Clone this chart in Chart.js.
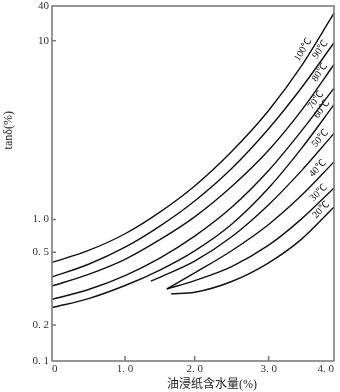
<!DOCTYPE html>
<html>
<head>
<meta charset="utf-8">
<script src="https://cdn.jsdelivr.net/npm/chart.js@4.4.1/dist/chart.umd.min.js"></script>
<style>
  html, body { margin: 0; padding: 0; background: #fff; }
</style>
</head>
<body>
<canvas id="tanDelta" width="340" height="392"></canvas>
<script>
// 油浸纸 tanδ 随含水量和温度的变化

const temps = ['100℃', '90℃', '80℃', '70℃', '60℃', '50℃', '40℃', '30℃', '20℃'];

// 含水量 (%)
const water = [0, 0.5, 1.0, 1.5, 2.0, 2.5, 3.0, 3.5, 4.0];
const water50 = [1.37, 1.5, 2.0, 2.5, 3.0, 3.5, 4.0];
const water40 = [1.6, 2.0, 2.5, 3.0, 3.5, 4.0];
const water30 = [1.6, 2.0, 2.5, 3.0, 3.5, 4.0];
const water20 = [1.66, 2.0, 2.5, 3.0, 3.5, 4.0];

// tanδ (%)
const tan100 = [0.44, 0.52, 0.74, 1.10, 1.54, 2.40, 4.07, 7.2, 30];
const tan90 = [0.366, 0.43, 0.557, 0.87, 1.27, 1.93, 3.22, 5.44, 9.74];
const tan80 = [0.327, 0.379, 0.458, 0.653, 1.035, 1.53, 2.44, 4.06, 7.36];
const tan70 = [0.276, 0.313, 0.373, 0.465, 0.703, 1.17, 1.88, 3.12, 5.43];
const tan60 = [0.249, 0.279, 0.329, 0.40, 0.516, 0.906, 1.50, 2.49, 4.39];
const tan50 = [0.348, 0.365, 0.447, 0.694, 1.21, 1.87, 3.03];
const tan40 = [0.315, 0.386, 0.517, 0.90, 1.36, 2.10];
const tan30 = [0.315, 0.35, 0.418, 0.581, 1.005, 1.50];
const tan20 = [0.296, 0.302, 0.346, 0.438, 0.657, 1.175];

// 温度标注沿曲线的位置 (含水量 %)
const labelAt = [3.62, 3.88, 3.87, 3.81, 3.9, 3.87, 3.83, 3.84, 3.88];

const xTicks = [0, 1, 2, 3, 4];
const xTickText = ['0', '1. 0', '2. 0', '3. 0', '4. 0'];
const yTicks = [0.1, 0.2, 0.5, 1, 10, 40];
const yTickText = ['0. 1', '0. 2', '0. 5', '1. 0', '10', '40'];

const xTitle = '油浸纸含水量(%)';
const yTitle = 'tanδ(%)';

// the printed axes are not evenly divided: each tick has its own place
// along the axis (0 = start, 1 = end), values in between are interpolated
const xRuler = [0, 0.2591, 0.5059, 0.7682, 1];
const yRuler = [0, 0.1014, 0.3062, 0.3986, 0.9023, 1];

function rulerFor(axis) {
  return axis === 'x'
    ? { v: xTicks, f: xRuler, log: false }
    : { v: yTicks, f: yRuler, log: true };
}

function toFrac(r, value) {
  const g = r.log ? Math.log10 : (v) => v;
  let i = 0;
  while (i < r.v.length - 2 && value > r.v[i + 1]) i++;
  const a = g(r.v[i]), b = g(r.v[i + 1]);
  return r.f[i] + (g(value) - a) / (b - a) * (r.f[i + 1] - r.f[i]);
}

function fromFrac(r, frac) {
  let i = 0;
  while (i < r.f.length - 2 && frac > r.f[i + 1]) i++;
  const t = (frac - r.f[i]) / (r.f[i + 1] - r.f[i]);
  if (r.log) {
    const a = Math.log10(r.v[i]), b = Math.log10(r.v[i + 1]);
    return Math.pow(10, a + t * (b - a));
  }
  return r.v[i] + t * (r.v[i + 1] - r.v[i]);
}

class RulerScale extends Chart.LinearScale {
  static id = 'ruler';
  static defaults = {};

  determineDataLimits() {
    const r = rulerFor(this.axis);
    this.min = r.v[0];
    this.max = r.v[r.v.length - 1];
  }
  buildTicks() {
    return rulerFor(this.axis).v.map(value => ({ value }));
  }
  getPixelForValue(value) {
    return this.getPixelForDecimal(toFrac(rulerFor(this.axis), value));
  }
  getValueForPixel(pixel) {
    return fromFrac(rulerFor(this.axis), this.getDecimalForPixel(pixel));
  }
}
Chart.register(RulerScale);

const AXIS_GRAY = '#7c7c7c';
const INK = '#111';
const SERIF = '"Liberation Serif", "Noto Sans CJK SC", serif';

Chart.defaults.font.family = SERIF;
Chart.defaults.color = '#333';

// frame round the plot and short inward ticks
const frame = {
  id: 'frame',
  afterDraw(chart) {
    const { ctx, chartArea: a, scales: { x, y } } = chart;
    ctx.save();
    ctx.strokeStyle = AXIS_GRAY;
    ctx.lineWidth = 1.6;
    ctx.strokeRect(a.left, a.top, a.right - a.left, a.bottom - a.top);
    ctx.beginPath();
    yTicks.slice(1, -1).forEach(v => {
      const p = y.getPixelForValue(v);
      ctx.moveTo(a.left, p);
      ctx.lineTo(a.left + 4, p);
    });
    xTicks.slice(1, -1).forEach(v => {
      const p = x.getPixelForValue(v);
      ctx.moveTo(p, a.bottom);
      ctx.lineTo(p, a.bottom - 5);
    });
    ctx.stroke();
    ctx.restore();
  }
};

// axis titles
const axisTitles = {
  id: 'axisTitles',
  afterDraw(chart) {
    const { ctx, chartArea: a } = chart;
    ctx.save();
    ctx.fillStyle = '#222';
    ctx.font = '12px ' + SERIF;
    ctx.textAlign = 'center';
    ctx.textBaseline = 'middle';
    ctx.fillText(xTitle, a.left + 0.567 * (a.right - a.left), chart.height - 7);
    ctx.translate(9, a.top + 0.35 * (a.bottom - a.top));
    ctx.rotate(-Math.PI / 2);
    ctx.fillText(yTitle, 0, 0);
    ctx.restore();
  }
};

// temperature written along each curve, just above it
const tempLabels = {
  id: 'tempLabels',
  afterDatasetsDraw(chart) {
    const { ctx } = chart;
    const xs = chart.scales.x;
    chart.data.datasets.forEach((ds, i) => {
      const pts = chart.getDatasetMeta(i).data;
      const px = xs.getPixelForValue(labelAt[i]);
      let k = 1;
      while (k < pts.length - 1 && pts[k].x < px) k++;
      const p0 = pts[k - 1], p1 = pts[k];
      const t = (px - p0.x) / (p1.x - p0.x);
      const py = p0.y + t * (p1.y - p0.y);
      const len = Math.hypot(p1.x - p0.x, p1.y - p0.y);
      const ux = (p1.x - p0.x) / len, uy = (p1.y - p0.y) / len;
      ctx.save();
      ctx.translate(px + uy * 7, py - ux * 7);
      ctx.rotate(Math.atan2(uy, ux));
      ctx.font = '10px ' + SERIF;
      ctx.fillStyle = INK;
      ctx.textAlign = 'center';
      ctx.textBaseline = 'middle';
      ctx.fillText(ds.label, 0, 0);
      ctx.restore();
    });
  }
};

const curves = [
  [water, tan100], [water, tan90], [water, tan80], [water, tan70], [water, tan60],
  [water50, tan50], [water40, tan40], [water30, tan30], [water20, tan20]
];

new Chart(document.getElementById('tanDelta'), {
  type: 'line',
  data: {
    datasets: curves.map(([xs, ys], i) => ({
      label: temps[i],
      data: xs.map((x, j) => ({ x, y: ys[j] })),
      borderColor: INK,
      borderWidth: 1.4,
      pointRadius: 0,
      fill: false,
      cubicInterpolationMode: 'monotone'
    }))
  },
  options: {
    responsive: false,
    animation: false,
    layout: { padding: { left: 0, right: 6, top: 6, bottom: 0 } },
    plugins: { legend: { display: false }, tooltip: { enabled: false } },
    scales: {
      x: {
        type: 'ruler',
        grid: { display: false, drawTicks: false },
        border: { display: false },
        ticks: {
          autoSkip: false,
          maxRotation: 0,
          padding: 2,
          align: 'inner',
          font: { size: 11 },
          callback: (v, i) => xTickText[i]
        },
        afterFit(scale) {
          scale.height = 31;
          scale.paddingLeft = 0;
          scale.paddingRight = 0;
        }
      },
      y: {
        type: 'ruler',
        grid: { display: false, drawTicks: false },
        border: { display: false },
        ticks: {
          autoSkip: false,
          padding: 3,
          font: { size: 11 },
          callback: (v, i) => yTickText[i]
        },
        afterFit(scale) {
          scale.width = 52;
          scale.paddingTop = 0;
          scale.paddingBottom = 0;
        }
      }
    }
  },
  plugins: [frame, axisTitles, tempLabels]
});
</script>
</body>
</html>
